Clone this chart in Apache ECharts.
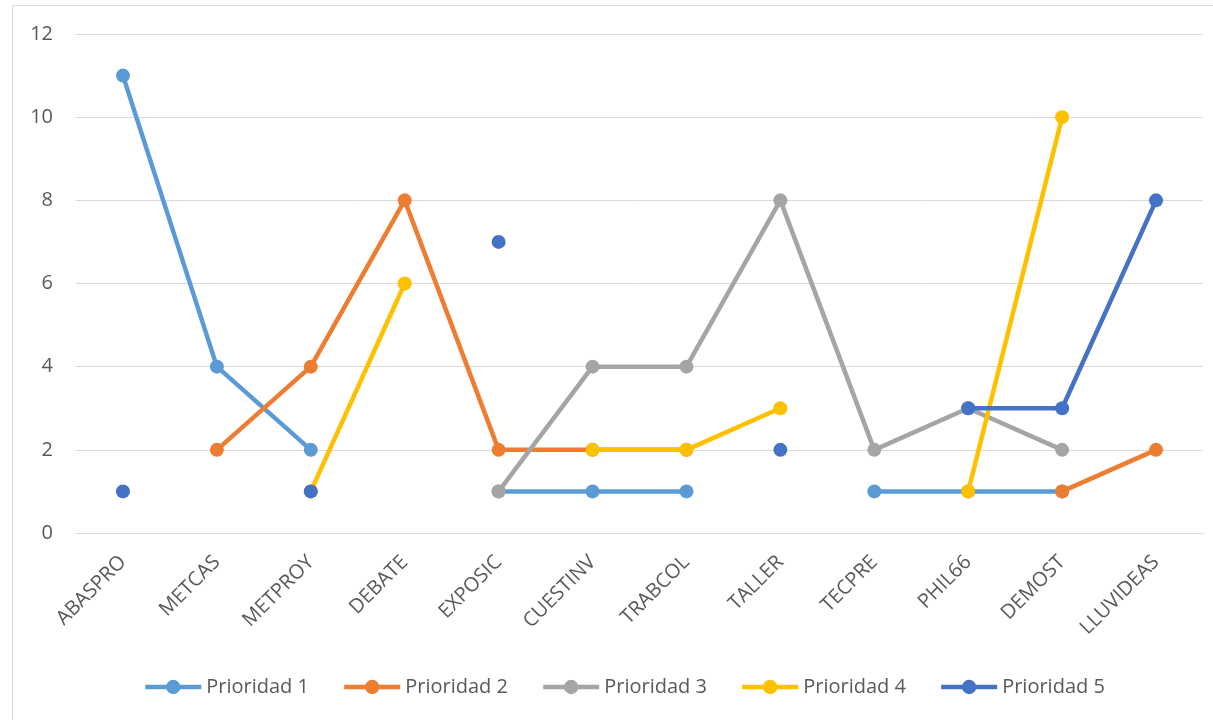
<!DOCTYPE html>
<html><head><meta charset="utf-8">
<script src="https://cdn.jsdelivr.net/npm/echarts@6/dist/echarts.min.js"></script>
<style>html,body{margin:0;padding:0;background:#fff}#c{width:1213px;height:720px}</style>
</head><body><div id="c"></div>
<script>
const categories = ['ABASPRO','METCAS','METPROY','DEBATE','EXPOSIC','CUESTINV','TRABCOL','TALLER','TECPRE','PHIL66','DEMOST','LLUVIDEAS'];
const prioridad1 = [11, 4, 2, null, 1, 1, 1, null, 1, 1, 1, null];
const prioridad2 = [null, 2, 4, 8, 2, 2, 2, null, null, null, 1, 2];
const prioridad3 = [null, null, null, null, 1, 4, 4, 8, 2, 3, 2, null];
const prioridad4 = [null, null, 1, 6, null, 2, 2, 3, null, 1, 10, null];
const prioridad5 = [1, null, 1, null, 7, null, null, 2, null, 3, 3, 8];
const seriesNames = ['Prioridad 1','Prioridad 2','Prioridad 3','Prioridad 4','Prioridad 5'];
const colors = ['#5B9BD5','#ED7D31','#A5A5A5','#FFC000','#4472C4'];
const yTicks = [0, 2, 4, 6, 8, 10, 12];

const font = 'Open Sans, Noto Sans, sans-serif';
const chart = echarts.init(document.getElementById('c'), null, {renderer:'canvas'});
const allData = [prioridad1, prioridad2, prioridad3, prioridad4, prioridad5];
chart.setOption({
  animation: false,
  color: colors,
  graphic: [{type:'rect', shape:{x:12.5, y:5.5, width:1220, height:730}, style:{fill:'none', stroke:'#D9D9D9', lineWidth:1}, silent:true}],
  grid: {left: 76, right: 10, top: 34, bottom: 187, containLabel: false},
  legend: {
    bottom: 18, left: 138, itemWidth: 56, itemHeight: 18, itemGap: 33,
    lineStyle: {width: 4.5},
    textStyle: {color:'#595959', fontSize: 20, fontFamily: font},
    data: seriesNames
  },
  xAxis: {
    type: 'category', data: categories, boundaryGap: true,
    axisLine: {show: true, lineStyle: {color:'#D9D9D9', width: 1}},
    axisTick: {show: false},
    axisLabel: {rotate: 45, color:'#595959', fontSize: 20, fontFamily: font, margin: 26, interval: 0}
  },
  yAxis: {
    type: 'value', min: yTicks[0], max: yTicks[yTicks.length-1], interval: 2,
    axisLine: {show:false}, axisTick: {show:false},
    axisLabel: {color:'#595959', fontSize: 20, fontFamily: font, margin: 23},
    splitLine: {lineStyle: {color:'#D9D9D9', width: 1}}
  },
  series: allData.map((d, i) => ({
    name: seriesNames[i], type: 'line', data: d,
    symbol: 'circle', symbolSize: 14, showSymbol: true, connectNulls: false,
    lineStyle: {width: 4.5, color: colors[i]},
    itemStyle: {color: colors[i]},
    z: 2 + i
  }))
});
</script></body></html>
